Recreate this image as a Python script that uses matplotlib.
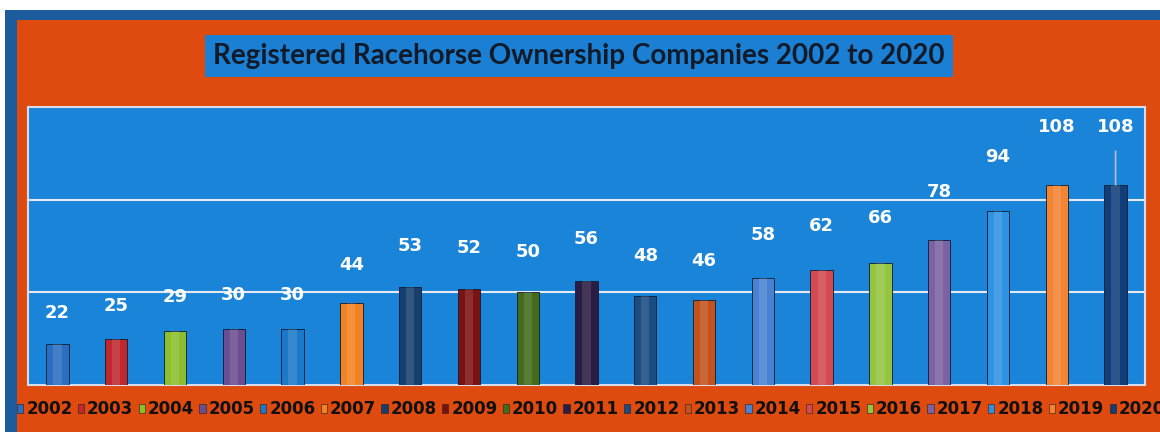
import matplotlib
matplotlib.use('Agg')
import matplotlib.pyplot as plt
from matplotlib.patches import Rectangle, Patch

# data
years = ['2002', '2003', '2004', '2005', '2006', '2007', '2008', '2009', '2010', '2011',
         '2012', '2013', '2014', '2015', '2016', '2017', '2018', '2019', '2020']
companies = [22, 25, 29, 30, 30, 44, 53, 52, 50, 56, 48, 46, 58, 62, 66, 78, 94, 108, 108]
bar_colors = ['#2a6ec0', '#c0282e', '#8cbf2e', '#6b4d92', '#1c78c8', '#f28222', '#173f6e',
              '#7a1212', '#426c1a', '#2a1c42', '#1a4c82', '#c4521c', '#4a82d2', '#d24a52',
              '#94c440', '#7c62a2', '#3092e2', '#f28432', '#113e7a']

W, H = 1160, 432
fig = plt.figure(figsize=(W / 100, H / 100), dpi=100)
fig.patch.set_facecolor('white')

# outer frame and orange background
fig.add_artist(Rectangle((5 / W, 0), 1, 1 - 10 / H, transform=fig.transFigure,
                         facecolor='#1c5c9c', edgecolor='none', zorder=-3))
fig.add_artist(Rectangle((17 / W, 0), 1, 1 - 20 / H, transform=fig.transFigure,
                         facecolor='#df4a0e', edgecolor='none', zorder=-2))

ax = fig.add_axes([28 / W, 1 - 385 / H, (1145 - 28) / W, (385 - 107) / H])
ax.set_facecolor('#1a84d8')
for s in ax.spines.values():
    s.set_color('#d8dcea')
    s.set_linewidth(1.5)

x = list(range(len(years)))
ax.bar(x, companies, width=0.38, color=bar_colors, edgecolor='#0c1a30', linewidth=0.6, zorder=3)
# a bit of shine down the middle of each bar
ax.bar(x, companies, width=0.14, color='white', alpha=0.12, linewidth=0, zorder=4)

ax.set_xlim(-0.5, len(years) - 0.5)
ax.set_ylim(0, 150)
ax.set_yticks([50, 100])
ax.grid(axis='y', color='#e6e8f2', linewidth=1.5, zorder=1)
ax.tick_params(left=False, bottom=False, labelleft=False, labelbottom=False)

for i, v in enumerate(companies):
    off = 18 + 0.22 * v
    if i == len(companies) - 1:
        ax.annotate(str(v), (i, v), xytext=(0, off), textcoords='offset points',
                    ha='center', va='center', color='white', fontsize=13, fontweight='bold',
                    arrowprops=dict(arrowstyle='-', color='#b8bcc8', lw=1.2, shrinkA=9, shrinkB=0))
    else:
        ax.annotate(str(v), (i, v), xytext=(0, off), textcoords='offset points',
                    ha='center', va='center', color='white', fontsize=13, fontweight='bold')

fig.text(579 / W, 1 - 56 / H, 'Registered Racehorse Ownership Companies 2002 to 2020',
         ha='center', va='center', fontsize=20, fontweight='bold', family='Lato',
         color='#101a28',
         bbox=dict(boxstyle='square,pad=0.3', facecolor='#1b80d4', edgecolor='none'))

handles = [Patch(facecolor=c, edgecolor='#202020', linewidth=0.4) for c in bar_colors]
fig.legend(handles, years, ncol=len(years), loc='center left',
           bbox_to_anchor=(17 / W, 1 - 409.5 / H), frameon=False,
           prop={'weight': 'bold', 'size': 12},
           handlelength=0.38, handleheight=0.45,
           handletextpad=0.18, columnspacing=0.31, borderaxespad=0, borderpad=0,
           labelcolor='#101010')

fig.savefig('out.png', dpi=100, facecolor=fig.get_facecolor())
